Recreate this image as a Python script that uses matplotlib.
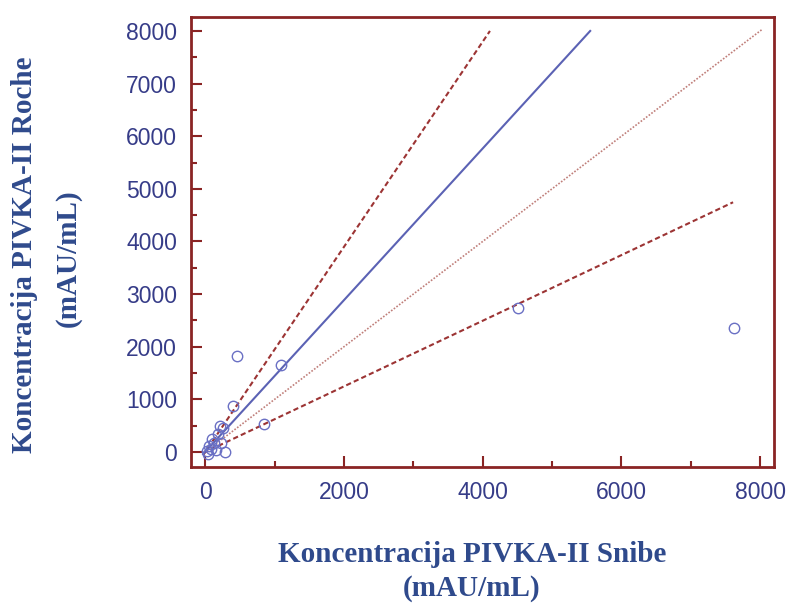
import numpy as np
import matplotlib
matplotlib.use('Agg')
import matplotlib.pyplot as plt
from matplotlib.ticker import MultipleLocator

snibe = [20, 40, 60, 80, 100, 120, 150, 180, 215, 260, 290, 230,
         400, 850, 460, 1095, 4510, 7620]
roche = [10, -40, 120, 60, 250, 170, 30, 350, 500, 460, 0, 180,
         870, 530, 1820, 1650, 2730, 2350]

# regression line and its confidence limits, plus identity line
x_upper = [-30, 4105]
y_upper = [-60, 8000]
x_fit = [-30, 5550]
y_fit = [-40, 8000]
x_ident = [0, 8030]
y_ident = [0, 8030]
x_lower = [-30, 7610]
y_lower = [-20, 4745]

xticks = [0, 2000, 4000, 6000, 8000]
yticks = [0, 1000, 2000, 3000, 4000, 5000, 6000, 7000, 8000]

frame_col = '#8a2424'
tick_col = '#363c88'
label_col = '#2f4a8c'

fig = plt.figure(figsize=(7.9, 6.04), dpi=100)
ax = fig.add_axes([191/790, 1-467/604, (774-191)/790, (467-17)/604])

ax.plot(x_ident, y_ident, color='#c07f7a', lw=1.2, ls=(0, (1, 1)))
ax.plot(x_upper, y_upper, color='#9c3434', lw=1.5, ls=(0, (2.5, 1.5)))
ax.plot(x_lower, y_lower, color='#9c3434', lw=1.5, ls=(0, (2.5, 1.5)))
ax.plot(x_fit, y_fit, color='#5b62b4', lw=1.5)
ax.plot(snibe, roche, 'o', mfc='none', mec='#6a70c4', mew=1.0, ms=7.5)

ax.set_xlim(-205, 8200)
ax.set_ylim(-285, 8265)
ax.set_xticks(xticks)
ax.set_yticks(yticks)
ax.xaxis.set_minor_locator(MultipleLocator(1000))
ax.yaxis.set_minor_locator(MultipleLocator(500))

for s in ax.spines.values():
    s.set_color(frame_col)
    s.set_linewidth(2.0)
ax.tick_params(which='major', direction='in', length=8, width=1.5,
               color=frame_col, labelcolor=tick_col, labelsize=16.5)
ax.tick_params(which='minor', direction='in', length=4, width=1.5,
               color=frame_col)
ax.tick_params(axis='y', which='major', pad=10)
ax.tick_params(axis='x', which='major', pad=10)
for lab in ax.get_xticklabels() + ax.get_yticklabels():
    lab.set_fontfamily('Liberation Sans')

# axis titles (two lines each, serif bold)
lab_kw = dict(fontfamily='Liberation Serif', fontweight='bold',
              color=label_col, fontsize=21, ha='center', va='center')
fig.text(472/790, 1-554/604, 'Koncentracija PIVKA-II Snibe', **lab_kw)
fig.text(472/790, 1-588/604, '(mAU/mL)', **lab_kw)
fig.text(25/790, 1-255/604, 'Koncentracija PIVKA-II Roche', rotation=90, **lab_kw)
fig.text(68/790, 1-258/604, '(mAU/mL)', rotation=90, **lab_kw)

fig.savefig('out.png', dpi=100)
